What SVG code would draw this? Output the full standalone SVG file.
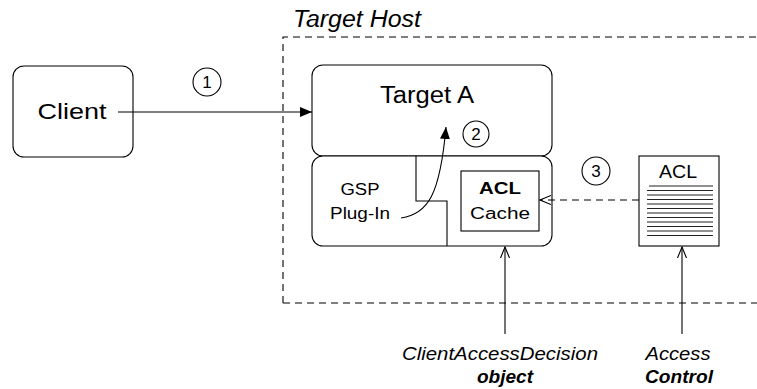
<svg xmlns="http://www.w3.org/2000/svg" width="757" height="389" viewBox="0 0 757 389">
<defs>
<style>
.box{fill:#fff;stroke:#000;stroke-width:1.1}
.ln{fill:none;stroke:#000;stroke-width:1.1}
.dash{fill:none;stroke:#000;stroke-width:1.1;stroke-dasharray:7 5}
.t{font-family:"Liberation Sans",Arial,sans-serif;fill:#000;text-anchor:middle}
.it{font-style:italic}
.b{font-weight:bold}
.doc{stroke:#222;stroke-width:1.1}
</style>
<marker id="fill" viewBox="0 0 12 10" refX="12" refY="5" markerWidth="12" markerHeight="10" markerUnits="userSpaceOnUse" orient="auto">
<path d="M0,0 L12,5 L0,10 Z" fill="#000"/>
</marker>
<marker id="open" viewBox="0 0 12 12" refX="11" refY="6" markerWidth="12" markerHeight="12" markerUnits="userSpaceOnUse" orient="auto">
<path d="M0,1.5 L11,6 L0,10.5" fill="none" stroke="#000" stroke-width="1.1"/>
</marker>
</defs>
<rect width="757" height="389" fill="#fff"/>

<g id="target-host">
<path class="dash" d="M283,303 V37 H757 M283,303 H757"/>
<text class="t it" x="293" y="27" font-size="23" style="text-anchor:start" textLength="128" lengthAdjust="spacingAndGlyphs">Target Host</text>
</g>

<g id="client">
<rect class="box" x="13" y="66" width="120" height="91" rx="11"/>
<text class="t" x="72" y="119" font-size="22" textLength="69" lengthAdjust="spacingAndGlyphs">Client</text>
</g>

<g id="target-a">
<rect class="box" x="312" y="65" width="240" height="91" rx="11"/>
<text class="t" x="427" y="103" font-size="23" textLength="94" lengthAdjust="spacingAndGlyphs">Target A</text>
</g>

<g id="gsp-plugin">
<rect class="box" x="312" y="156" width="240" height="90" rx="11"/>
<path class="ln" d="M416,156 V201 H447 V246"/>
<text class="t" x="360" y="195" font-size="16" textLength="39" lengthAdjust="spacingAndGlyphs">GSP</text>
<text class="t" x="360" y="219" font-size="16" textLength="60" lengthAdjust="spacingAndGlyphs">Plug-In</text>
</g>

<g id="acl-cache">
<rect class="box" x="461" y="171" width="78" height="60"/>
<text class="t b" x="500" y="194" font-size="17" textLength="42" lengthAdjust="spacingAndGlyphs">ACL</text>
<text class="t" x="500" y="219" font-size="16" textLength="60" lengthAdjust="spacingAndGlyphs">Cache</text>
</g>

<g id="acl-doc">
<rect class="box" x="639" y="156" width="80" height="90"/>
<text class="t" x="678" y="178" font-size="19" textLength="38" lengthAdjust="spacingAndGlyphs">ACL</text>
<path class="doc" d="M649,186 H713 M647,190.5 H713 M647,195 H713 M647,199.5 H713 M647,204 H713 M647,208.5 H713 M647,213 H713 M647,217.5 H713 M647,222 H713 M647,226.5 H713 M647,231 H713 M647,235.5 H713"/>
</g>

<g id="label-cad">
<text class="t it" x="500" y="360" font-size="18" textLength="196" lengthAdjust="spacingAndGlyphs">ClientAccessDecision</text>
<text class="t it b" x="505" y="383" font-size="18" textLength="56" lengthAdjust="spacingAndGlyphs">object</text>
</g>

<g id="label-ac">
<text class="t it" x="678" y="360" font-size="18" textLength="65" lengthAdjust="spacingAndGlyphs">Access</text>
<text class="t it b" x="679" y="383" font-size="18" textLength="68" lengthAdjust="spacingAndGlyphs">Control</text>
</g>

<g id="step-1">
<circle class="ln" cx="207" cy="82" r="14"/>
<text class="t" x="207" y="88" font-size="17">1</text>
</g>
<g id="step-2">
<circle class="ln" cx="476" cy="134" r="13"/>
<text class="t" x="476" y="140" font-size="17">2</text>
</g>
<g id="step-3">
<circle class="ln" cx="596" cy="171" r="14"/>
<text class="t" x="596" y="177" font-size="17">3</text>
</g>

<g id="connectors">
<line class="ln" x1="118" y1="112" x2="312" y2="112" marker-end="url(#fill)"/>
<path class="ln" d="M401,218 C 428,214 440,195 446,127" marker-end="url(#fill)"/>
<line class="dash" x1="639" y1="200" x2="540" y2="200" marker-end="url(#open)"/>
<line class="ln" x1="505" y1="334" x2="505" y2="247" marker-end="url(#open)"/>
<line class="ln" x1="682" y1="334" x2="682" y2="247" marker-end="url(#open)"/>
</g>
</svg>
